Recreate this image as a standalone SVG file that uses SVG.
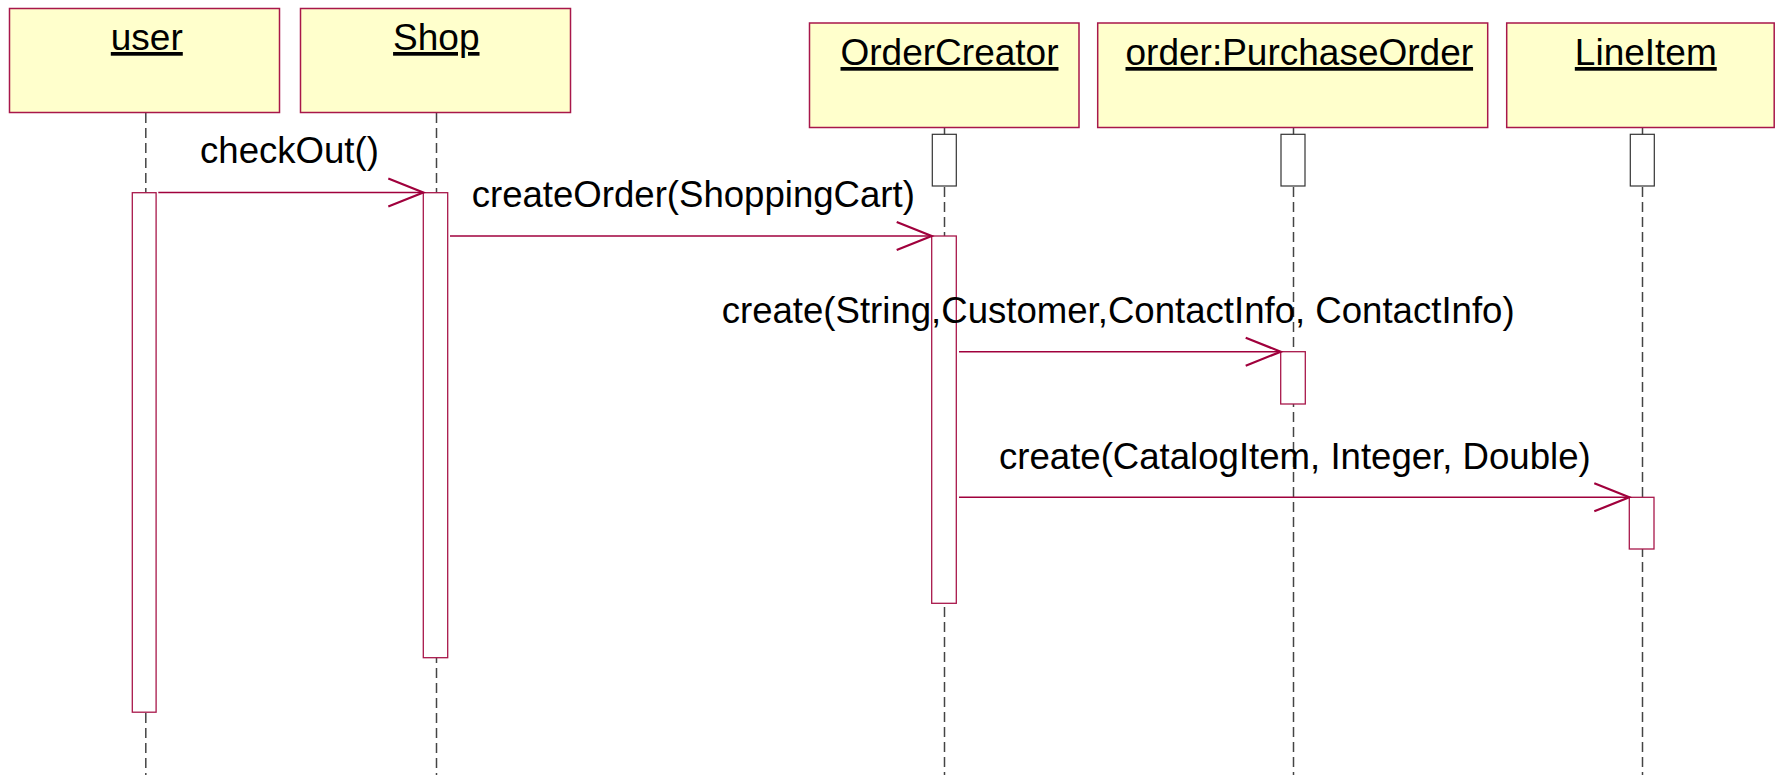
<svg xmlns="http://www.w3.org/2000/svg" width="1776" height="775" viewBox="0 0 1776 775">
  <style>
    .box { fill: #FFFFCC; stroke: #a8174a; stroke-width: 1.5; }
    .name { font-family: "Liberation Sans", Arial, sans-serif; font-size: 37px; fill: #000; text-anchor: middle; text-decoration: underline; }
    .life { stroke: #444; stroke-width: 1.5; stroke-dasharray: 10 5; fill: none; }
    .act { fill: #fff; stroke: #a8174a; stroke-width: 1.3; }
    .init { fill: #fff; stroke: #333; stroke-width: 1.2; }
    .msg { stroke: #a0003c; stroke-width: 1.5; fill: none; marker-end: url(#open); }
    .lbl { font-family: "Liberation Sans", Arial, sans-serif; font-size: 36.6px; fill: #000; }
  </style>
  <defs>
    <marker id="open" markerUnits="userSpaceOnUse" markerWidth="40" markerHeight="32" viewBox="0 0 40 32" refX="36" refY="15" orient="auto" overflow="visible">
      <path d="M1,1 L36,15 L1,29" fill="none" stroke="#a0003c" stroke-width="2.2"/>
    </marker>
  </defs>
  <rect width="1776" height="775" fill="#fff"/>

  <g id="node-user">
    <line class="life" x1="145.8" y1="113" x2="145.8" y2="775"/>
    <rect class="box" x="9.5" y="8.5" width="270" height="104"/>
    <text class="name" x="146.8" y="50">user</text>
    <rect class="act" x="132.3" y="192.7" width="23.8" height="519.5"/>
  </g>

  <g id="node-shop">
    <line class="life" x1="436.5" y1="113" x2="436.5" y2="775"/>
    <rect class="box" x="300.5" y="8.5" width="270" height="104"/>
    <text class="name" x="436.3" y="50">Shop</text>
    <rect class="act" x="423.3" y="192.7" width="24.4" height="465"/>
  </g>

  <g id="node-ordercreator">
    <line class="life" x1="944.5" y1="127" x2="944.5" y2="775"/>
    <rect class="box" x="809.5" y="23" width="269.5" height="104.5"/>
    <text class="name" x="949.5" y="65">OrderCreator</text>
    <rect class="init" x="932.3" y="134.3" width="24" height="51.7"/>
    <rect class="act" x="931.7" y="236" width="24.6" height="367.3"/>
  </g>

  <g id="node-purchaseorder">
    <line class="life" x1="1293.5" y1="127" x2="1293.5" y2="775"/>
    <rect class="box" x="1097.7" y="23" width="390" height="104.5"/>
    <text class="name" x="1299.3" y="65">order:PurchaseOrder</text>
    <rect class="init" x="1281" y="134.3" width="24" height="51.7"/>
    <rect class="act" x="1280.7" y="351.7" width="24.6" height="52.3"/>
  </g>

  <g id="node-lineitem">
    <line class="life" x1="1642.5" y1="127" x2="1642.5" y2="775"/>
    <rect class="box" x="1506.7" y="23" width="267.5" height="104.5"/>
    <text class="name" x="1645.8" y="65">LineItem</text>
    <rect class="init" x="1630.3" y="134.3" width="24" height="51.7"/>
    <rect class="act" x="1629.3" y="497.3" width="24.7" height="51.7"/>
  </g>

  <g id="connectors">
    <g id="msg-checkout">
      <line class="msg" x1="158.3" y1="192.5" x2="423.3" y2="192.5"/>
      <text class="lbl" x="200" y="162.7">checkOut()</text>
    </g>
    <g id="msg-createorder">
      <line class="msg" x1="450" y1="236" x2="931.7" y2="236"/>
      <text class="lbl" x="471.7" y="206.7">createOrder(ShoppingCart)</text>
    </g>
    <g id="msg-create-po">
      <line class="msg" x1="959" y1="351.7" x2="1280.7" y2="351.7"/>
      <text class="lbl" x="721.7" y="322.7">create(String,Customer,ContactInfo, ContactInfo)</text>
    </g>
    <g id="msg-create-li">
      <line class="msg" x1="959" y1="497.3" x2="1629.3" y2="497.3"/>
      <text class="lbl" x="999" y="469.3">create(CatalogItem, Integer, Double)</text>
    </g>
  </g>
</svg>
